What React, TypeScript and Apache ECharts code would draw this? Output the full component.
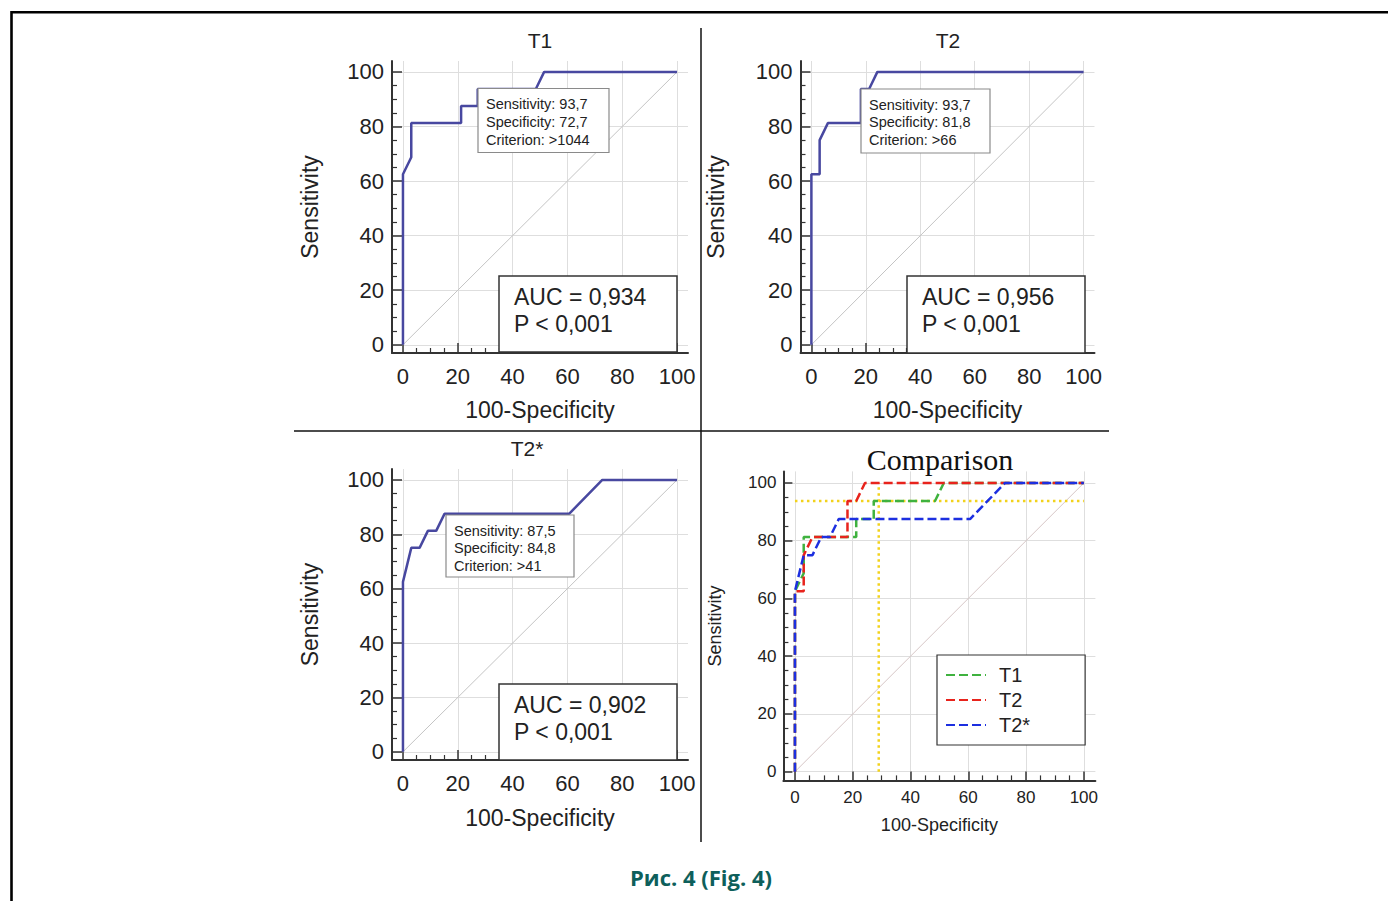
import React, { useEffect, useRef } from 'react';
import * as echarts from 'echarts';

// ---- Data ----
const majorTicks = [0, 20, 40, 60, 80, 100];
const minorTicks = [5, 10, 15, 25, 30, 35, 45, 50, 55, 65, 70, 75, 85, 90, 95];

// ROC points: [100-Specificity, Sensitivity]
const t1Roc = [[0, 0], [0, 62.5], [3.03, 68.75], [3.03, 81.25], [21.21, 81.25], [21.21, 87.5], [27.27, 87.5], [27.27, 93.75], [48.48, 93.75], [51.52, 100], [100, 100]];
const t2Roc = [[0, 0], [0, 62.5], [3.03, 62.5], [3.03, 75], [6.06, 81.25], [18.18, 81.25], [18.18, 93.75], [21.21, 93.75], [24.24, 100], [100, 100]];
const t2sRoc = [[0, 0], [0, 62.5], [3.03, 75], [6.06, 75], [9.09, 81.25], [12.12, 81.25], [15.15, 87.5], [60.61, 87.5], [72.73, 100], [100, 100]];
const diagonal = [[0, 0], [100, 100]];
const cutoffH = [[0, 93.75], [100, 93.75]];
const cutoffV = [[29, 0], [29, 100]];

const panelTitles = ['T1', 'T2', 'T2*'];
const criterionTexts = [
  ['Sensitivity: 93,7', 'Specificity: 72,7', 'Criterion: >1044'],
  ['Sensitivity: 93,7', 'Specificity: 81,8', 'Criterion: >66'],
  ['Sensitivity: 87,5', 'Specificity: 84,8', 'Criterion: >41'],
];
const aucTexts = [
  ['AUC = 0,934', 'P < 0,001'],
  ['AUC = 0,956', 'P < 0,001'],
  ['AUC = 0,902', 'P < 0,001'],
];
const legendNames = ['T1', 'T2', 'T2*'];

const SANS = 'Liberation Sans, Arial, sans-serif';

type Grid = { left: number; top: number; width: number; height: number };
const grids: Grid[] = [
  { left: 392, top: 61, width: 296, height: 292 },
  { left: 800.5, top: 61, width: 294, height: 292 },
  { left: 392, top: 469, width: 296, height: 291 },
  { left: 783.4, top: 471.4, width: 312, height: 309 },
];

type AxCfg = { fs: number; xMargin: number; yMargin: number; xGap: number; yGap: number; nameFs: number; majorLen: number; minorLen: number };
const axCfgs: AxCfg[] = [
  { fs: 22, xMargin: 12, yMargin: 8, xGap: 45, yGap: 71, nameFs: 23, majorLen: 10, minorLen: 5 },
  { fs: 22, xMargin: 12, yMargin: 8, xGap: 45, yGap: 73, nameFs: 23, majorLen: 10, minorLen: 5 },
  { fs: 22, xMargin: 12, yMargin: 8, xGap: 46, yGap: 71, nameFs: 23, majorLen: 10, minorLen: 5 },
  { fs: 17, xMargin: 9, yMargin: 7, xGap: 36, yGap: 59, nameFs: 18, majorLen: 9, minorLen: 5 },
];

const axisColor = '#333';
const gridColor = '#dedede';

function makeAxes(dim: 'x' | 'y', gi: number) {
  const c = axCfgs[gi];
  const isX = dim === 'x';
  const min = isX ? -4 : -3;
  const max = 104;
  const major: any = {
    type: 'value',
    gridIndex: gi,
    min,
    max,
    position: isX ? 'bottom' : 'left',
    name: isX ? '100-Specificity' : 'Sensitivity',
    nameLocation: 'middle',
    nameGap: isX ? c.xGap : c.yGap,
    nameTextStyle: { fontSize: c.nameFs, color: '#222', fontFamily: SANS },
    axisLine: { show: true, onZero: false, lineStyle: { color: axisColor, width: 2 } },
    axisTick: { show: true, inside: true, length: c.majorLen, customValues: majorTicks, lineStyle: { color: axisColor, width: 1.5 } },
    axisLabel: { show: true, customValues: majorTicks, margin: isX ? c.xMargin : c.yMargin, fontSize: c.fs, color: '#222', fontFamily: SANS },
    splitLine: { show: true, lineStyle: { color: gridColor, width: 1 } },
  };
  const minor: any = {
    type: 'value',
    gridIndex: gi,
    min,
    max,
    position: isX ? 'bottom' : 'left',
    axisLine: { show: false, onZero: false },
    axisTick: { show: true, inside: true, length: c.minorLen, customValues: minorTicks, lineStyle: { color: axisColor, width: 1.2 } },
    axisLabel: { show: false },
    splitLine: { show: false },
  };
  return [major, minor];
}

export default function App() {
  const ref = useRef<HTMLDivElement>(null);

  useEffect(() => {
    if (!ref.current) return;
    const chart = echarts.init(ref.current, null, { renderer: 'svg' });

    const xAxis: any[] = [];
    const yAxis: any[] = [];
    for (let i = 0; i < 4; i++) {
      xAxis.push(...makeAxes('x', i));
      yAxis.push(...makeAxes('y', i));
    }

    const series: any[] = [];
    const rocs = [t1Roc, t2Roc, t2sRoc];
    for (let i = 0; i < 3; i++) {
      series.push({
        type: 'line', name: 'diag-' + i, xAxisIndex: 2 * i, yAxisIndex: 2 * i,
        data: diagonal, symbol: 'none', silent: true, z: 2,
        lineStyle: { color: '#c4c4c4', width: 1 },
      });
      series.push({
        type: 'line', name: 'roc-' + panelTitles[i], xAxisIndex: 2 * i, yAxisIndex: 2 * i,
        data: rocs[i], symbol: 'none', z: 3,
        lineStyle: { color: '#4848a0', width: 2.5 },
      });
    }
    // comparison panel
    series.push({
      type: 'line', name: 'diag-3', xAxisIndex: 6, yAxisIndex: 6, data: diagonal, symbol: 'none', z: 2,
      lineStyle: { color: '#d6c6c6', width: 1 },
    });
    series.push({
      type: 'line', name: 'cut-h', xAxisIndex: 6, yAxisIndex: 6, data: cutoffH, symbol: 'none', z: 3,
      lineStyle: { color: '#f2d21c', width: 2.5, type: [2.5, 3.5] },
    });
    series.push({
      type: 'line', name: 'cut-v', xAxisIndex: 6, yAxisIndex: 6, data: cutoffV, symbol: 'none', z: 3,
      lineStyle: { color: '#f2d21c', width: 2.5, type: [2.5, 3.5] },
    });
    const compColors = ['#3fb23f', '#e8231c', '#1c2fe0'];
    rocs.forEach((d, k) => {
      series.push({
        type: 'line', name: legendNames[k], xAxisIndex: 6, yAxisIndex: 6, data: d, symbol: 'none', z: 4,
        lineStyle: { color: compColors[k], width: 2.5, type: [9, 4] },
        itemStyle: { color: compColors[k] },
      });
    });

    const graphic: any[] = [];
    // frame
    graphic.push({ type: 'rect', z: 50, shape: { x: 11.5, y: 12.2, width: 1420, height: 940 }, style: { fill: 'none', stroke: '#000', lineWidth: 2.6 } });
    // separators
    graphic.push({ type: 'line', z: 50, shape: { x1: 701, y1: 28, x2: 701, y2: 842 }, style: { stroke: '#111', lineWidth: 1.5 } });
    graphic.push({ type: 'line', z: 50, shape: { x1: 294, y1: 431, x2: 1109, y2: 431 }, style: { stroke: '#111', lineWidth: 1.5 } });

    // titles
    const titlePos = [[540, 40], [948, 40], [527, 448]];
    panelTitles.forEach((t, i) => {
      graphic.push({ type: 'text', z: 50, x: titlePos[i][0], y: titlePos[i][1], style: { text: t, fill: '#222', font: `21px ${SANS}`, textAlign: 'center', textVerticalAlign: 'middle' } });
    });
    graphic.push({ type: 'text', z: 50, x: 940, y: 459, style: { text: 'Comparison', fill: '#111', font: `30px Liberation Serif, Times New Roman, serif`, textAlign: 'center', textVerticalAlign: 'middle' } });

    // criterion boxes
    const critBoxes = [
      { x: 478, y: 88.5, w: 131, h: 64 },
      { x: 861, y: 89, w: 129, h: 64 },
      { x: 446, y: 515, w: 128, h: 62 },
    ];
    critBoxes.forEach((b, i) => {
      graphic.push({ type: 'rect', z: 60, shape: { x: b.x, y: b.y, width: b.w, height: b.h }, style: { fill: '#fff', stroke: '#8a8a8a', lineWidth: 1.2 } });
      criterionTexts[i].forEach((t, j) => {
        graphic.push({ type: 'text', z: 61, x: b.x + 8, y: b.y + 15.5 + j * 17.8, style: { text: t, fill: '#222', font: `14.5px ${SANS}`, textVerticalAlign: 'middle' } });
      });
    });

    // AUC boxes
    const aucBoxes = [
      { x: 499, y: 276, w: 178, h: 76 },
      { x: 907, y: 276, w: 178, h: 77 },
      { x: 499, y: 684, w: 178, h: 76 },
    ];
    aucBoxes.forEach((b, i) => {
      graphic.push({ type: 'rect', z: 60, shape: { x: b.x, y: b.y, width: b.w, height: b.h }, style: { fill: '#fff', stroke: '#333', lineWidth: 1.5 } });
      aucTexts[i].forEach((t, j) => {
        graphic.push({ type: 'text', z: 61, x: b.x + 15, y: b.y + 20.5 + j * 27, style: { text: t, fill: '#222', font: `23px ${SANS}`, textVerticalAlign: 'middle' } });
      });
    });

    // caption
    graphic.push({ type: 'text', z: 50, x: 701, y: 877, style: { text: 'Рис. 4 (Fig. 4)', fill: '#0e5f5b', font: `bold 22px Open Sans, Noto Sans, sans-serif`, textAlign: 'center', textVerticalAlign: 'middle' } });

    const option: any = {
      animation: false,
      backgroundColor: '#fff',
      grid: grids.map((g) => ({ ...g, outerBoundsMode: 'none', containLabel: false, show: false })),
      xAxis,
      yAxis,
      series,
      legend: {
        data: legendNames,
        orient: 'vertical',
        left: 937,
        top: 655,
        itemWidth: 40,
        itemHeight: 14,
        itemGap: 5,
        selectedMode: false,
        borderColor: '#333',
        borderWidth: 1.2,
        backgroundColor: '#fff',
        padding: [10, 55, 10, 8],
        itemStyle: { color: 'rgba(0,0,0,0)', borderColor: 'rgba(0,0,0,0)', borderWidth: 0, opacity: 0 },
        textStyle: { fontSize: 20, color: '#222', fontFamily: SANS, padding: [0, 0, 0, 8] },
        z: 20,
      },
      graphic,
    };

    chart.setOption(option);
    return () => chart.dispose();
  }, []);

  return <div ref={ref} style={{ position: 'absolute', left: 0, top: 0, width: 1388, height: 901 }} />;
}
